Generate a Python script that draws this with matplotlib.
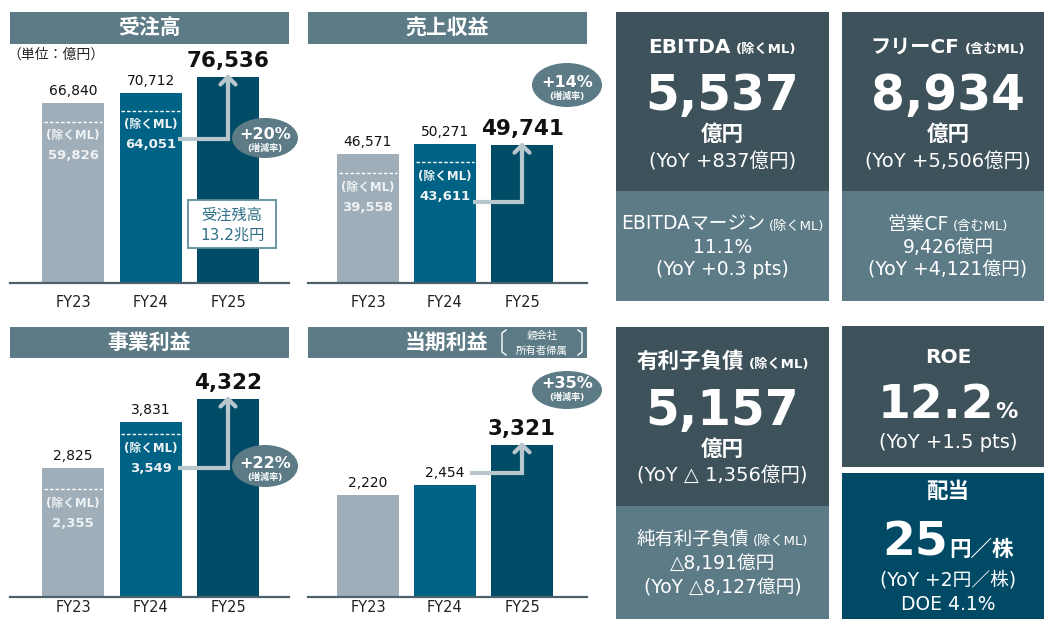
import matplotlib
matplotlib.use('Agg')
import matplotlib.pyplot as plt
from matplotlib.patches import Rectangle, Ellipse

plt.rcParams['font.family'] = ['DejaVu Sans', 'Noto Sans CJK JP']

# ---------------- data ----------------
years = ['FY23', 'FY24', 'FY25']
orders = [66840, 70712, 76536]
orders_exml = [59826, 64051]
revenue = [46571, 50271, 49741]
revenue_exml = [39558, 43611]
bizprofit = [2825, 3831, 4322]
bizprofit_exml = [2355, 3549]
netprofit = [2220, 2454, 3321]
growth = ['+20%', '+14%', '+22%', '+35%']
titles = ['受注高', '売上収益', '事業利益', '当期利益']

W, H = 1044, 619
fig = plt.figure(figsize=(W / 100, H / 100), dpi=100)
fig.patch.set_facecolor('white')

C_FY = ['#a0aeb9', '#006385', '#004c66']
C_HDR = '#5c7b86'
C_DARK = '#3e525b'
C_MID = '#5c7b86'
C_DIV = '#004a66'
C_ARW = '#b8c7ce'
C_BASE = '#4d616b'
C_ML = '#eef2f4'

ov = fig.add_axes([0, 0, 1, 1])
ov.set_xlim(0, W)
ov.set_ylim(H, 0)
ov.axis('off')
ov.set_zorder(5)


def to_px(ax, x, y):
    d = ax.transData.transform((x, y))
    return d[0], H - d[1]


def bar_chart(px0, px1, base, ymax, xlim, vals, exml, pad):
    ax = fig.add_axes([px0 / W, (H - base) / H, (px1 - px0) / W, 240 / H])
    ax.set_facecolor('none')
    ax.bar(range(3), vals, width=0.8, color=C_FY, zorder=2)
    ax.set_xlim(*xlim)
    ax.set_ylim(0, ymax)
    for s in ['top', 'right', 'left']:
        ax.spines[s].set_visible(False)
    ax.spines['bottom'].set_color(C_BASE)
    ax.spines['bottom'].set_linewidth(1.6)
    ax.set_yticks([])
    ax.set_xticks(range(3), years)
    ax.tick_params(axis='x', length=0, pad=pad, labelsize=10.5, labelcolor='#222222')
    for i, v in enumerate(vals):
        if i < 2:
            ax.annotate(f'{v:,}', (i, v), xytext=(0, 12 * 0.72), textcoords='offset points',
                        ha='center', va='center', fontsize=10, color='#111111',
                        annotation_clip=False)
        else:
            ax.annotate(f'{v:,}', (i, v), xytext=(0, 16 * 0.72), textcoords='offset points',
                        ha='center', va='center', fontsize=15.5, fontweight='bold',
                        color='#111111', annotation_clip=False)
    for i, e in enumerate(exml):
        ax.hlines(e, i - 0.38, i + 0.38, colors='white', linestyles=(0, (2.5, 1.5)),
                  lw=1.0, zorder=3)
        ax.annotate('(除くML)', (i, e), xytext=(0, -14 * 0.72), textcoords='offset points',
                    ha='center', va='center', fontsize=8.5, fontweight='bold', color=C_ML)
        ax.annotate(f'{e:,}', (i, e), xytext=(0, -34 * 0.72), textcoords='offset points',
                    ha='center', va='center', fontsize=9.5, fontweight='bold', color=C_ML)
    return ax


def arrow(ax, start_dx, sy):
    cx, top = to_px(ax, 2, ax.containers[0].datavalues[2])
    sx = to_px(ax, 1, 0)[0] + start_dx
    tip = top - 3
    ov.plot([sx, cx, cx], [sy, sy, tip + 4], color=C_ARW, lw=3,
            solid_joinstyle='miter', solid_capstyle='butt', zorder=6)
    ov.annotate('', xy=(cx, tip), xytext=(cx, tip + 14),
                arrowprops=dict(arrowstyle='->,head_length=0.45,head_width=0.45',
                                lw=3, color=C_ARW, mutation_scale=12,
                                shrinkA=0, shrinkB=0), zorder=6)


def bubble(cx, cy, w, h, txt, ty):
    ov.add_patch(Ellipse((cx, cy), w, h, facecolor=C_HDR, edgecolor='none', zorder=7))
    ov.text(cx, ty, txt, ha='center', va='baseline', fontsize=11.5, fontweight='bold',
            color='white', zorder=8)
    ov.text(cx, ty + 9, '(増減率)', ha='center', va='center', fontsize=6.5,
            fontweight='bold', color='white', zorder=8)


# headers
for (x0, y0, x1, y1) in [(10, 12, 289, 44), (308, 12, 587, 44),
                         (10, 327, 289, 358), (308, 327, 587, 358)]:
    ov.add_patch(Rectangle((x0, y0), x1 - x0, y1 - y0, facecolor=C_HDR, edgecolor='none'))
ov.text(149.5, 28, titles[0], ha='center', va='center', fontsize=15, fontweight='bold', color='white')
ov.text(447.5, 28, titles[1], ha='center', va='center', fontsize=15, fontweight='bold', color='white')
ov.text(149.5, 343, titles[2], ha='center', va='center', fontsize=15, fontweight='bold', color='white')
ov.text(447, 343, titles[3], ha='center', va='center', fontsize=15, fontweight='bold', color='white')
ov.text(542, 336, '親会社', ha='center', va='center', fontsize=7.5, color='white')
ov.text(542, 351, '所有者帰属', ha='center', va='center', fontsize=7.5, color='white')
ov.plot([506, 502, 502, 506], [330, 333, 352, 355], color='white', lw=1)
ov.plot([578, 582, 582, 578], [330, 333, 352, 355], color='white', lw=1)

ov.text(7, 55, '（単位：億円）', ha='left', va='center', fontsize=10, color='#222222')

# charts
ax1 = bar_chart(10, 289, 283, 240 / 0.002692, (-0.813, 2.787), orders, orders_exml, 8.5)
ax2 = bar_chart(308, 587, 283, 240 / 0.00277, (-0.779, 2.844), revenue, revenue_exml, 8.5)
ax3 = bar_chart(10, 289, 597, 240 / 0.0458, (-0.813, 2.787), bizprofit, bizprofit_exml, 2.5)
ax4 = bar_chart(308, 587, 597, 240 / 0.0458, (-0.779, 2.844), netprofit, [], 2.5)

arrow(ax1, 27, 139)
arrow(ax2, 28, 202)
arrow(ax3, 27, 468)
arrow(ax4, 25, 473)

bubble(265, 138, 66, 40, growth[0], 139)
bubble(567, 85, 70, 44, growth[1], 87)
bubble(265, 466, 66, 42, growth[2], 468)
bubble(567, 390, 70, 38, growth[3], 388)

# order backlog box
ov.add_patch(Rectangle((188, 200), 88, 48, facecolor='white', edgecolor='#5e8c9b', lw=1.3, zorder=6))
ov.text(232, 215, '受注残高', ha='center', va='center', fontsize=11, color='#2e6f87', zorder=7)
ov.text(232, 235, '13.2兆円', ha='center', va='center', fontsize=11, color='#2e6f87', zorder=7)

# ---------------- right panels ----------------
for (x0, y0, x1, y1, c) in [(616, 12, 829, 191, C_DARK), (616, 191, 829, 301, C_MID),
                            (842, 12, 1055, 191, C_DARK), (842, 191, 1055, 301, C_MID),
                            (616, 327, 829, 506, C_DARK), (616, 506, 829, 625, C_MID),
                            (842, 326, 1055, 467, C_DARK), (842, 473, 1055, 625, C_DIV)]:
    ov.add_patch(Rectangle((x0, y0), x1 - x0, y1 - y0, facecolor=c, edgecolor='none'))

renderer = fig.canvas.get_renderer()


def rich(x, y, pieces, gap=4, color='white'):
    ts, ws = [], []
    for s, size, wt in pieces:
        t = ov.text(0, y, s, fontsize=size, fontweight=wt, color=color,
                    ha='left', va='baseline')
        ws.append(t.get_window_extent(renderer=renderer).width)
        ts.append(t)
    total = sum(ws) + gap * (len(ts) - 1)
    cur = x - total / 2
    for t, w in zip(ts, ws):
        t.set_x(cur)
        cur += w + gap


def line(x, y, s, size, wt='normal'):
    ov.text(x, y, s, ha='center', va='baseline', fontsize=size, fontweight=wt, color='white')


L, R = 722.5, 948
# EBITDA
rich(L, 53, [('EBITDA', 14.5, 'bold'), ('(除くML)', 9.5, 'bold')], gap=5)
line(L, 110, '5,537', 35, 'bold')
line(L, 141, '億円', 15.5, 'bold')
line(L, 167, '(YoY +837億円)', 14)
rich(L, 230, [('EBITDAマージン', 13.5, 'normal'), ('(除くML)', 9.5, 'normal')], gap=4)
line(L, 253, '11.1%', 13.5)
line(L, 275, '(YoY +0.3 pts)', 13.5)
# Free CF
rich(R, 53, [('フリーCF', 14.5, 'bold'), ('(含むML)', 9.5, 'bold')], gap=5)
line(R, 110, '8,934', 35, 'bold')
line(R, 141, '億円', 15.5, 'bold')
line(R, 167, '(YoY +5,506億円)', 14)
rich(R, 230, [('営業CF', 13.5, 'normal'), ('(含むML)', 9.5, 'normal')], gap=4)
line(R, 253, '9,426億円', 13.5)
line(R, 275, '(YoY +4,121億円)', 13.5)
# Debt
rich(L, 368, [('有利子負債', 15.5, 'bold'), ('(除くML)', 9.5, 'bold')], gap=5)
line(L, 425, '5,157', 35, 'bold')
line(L, 456, '億円', 15.5, 'bold')
line(L, 482, '(YoY △ 1,356億円)', 14)
rich(L, 545, [('純有利子負債', 13.5, 'normal'), ('(除くML)', 9.5, 'normal')], gap=4)
line(L, 569, '△8,191億円', 13.5)
line(L, 593, '(YoY △8,127億円)', 13.5)
# ROE
line(R, 363, 'ROE', 14.5, 'bold')
rich(R, 418, [('12.2', 34, 'bold'), ('%', 16, 'bold')], gap=1)
line(R, 448, '(YoY +1.5 pts)', 14)
# Dividend
line(R, 498, '配当', 15.5, 'bold')
rich(R, 556, [('25', 34, 'bold'), ('円／株', 15.5, 'bold')], gap=1)
line(R, 586, '(YoY +2円／株)', 13.5)
line(R, 610, 'DOE 4.1%', 13.5)

fig.savefig('out.png', dpi=100, facecolor='white')
